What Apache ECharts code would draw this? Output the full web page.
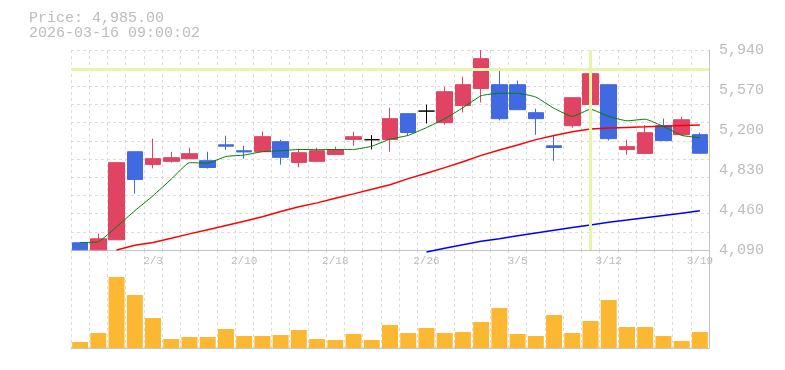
<!DOCTYPE html>
<html><head><meta charset="utf-8">
<script src="https://cdn.jsdelivr.net/npm/echarts@6/dist/echarts.min.js"></script>
<style>html,body{margin:0;padding:0;background:#fff}#c{width:785px;height:370px}</style>
</head><body><div id="c"></div>
<script>
const dates = ['1/28','1/29','1/30','2/2','2/3','2/4','2/5','2/6','2/9','2/10','2/12','2/13','2/16','2/17','2/18','2/19','2/20','2/24','2/25','2/26','2/27','3/2','3/3','3/4','3/5','3/6','3/9','3/10','3/11','3/12','3/13','3/16','3/17','3/18','3/19'];
const opens  = [4157,4092,4185,4999,4882,4910,4935,4916,5063,5008,4999,5092,4900,4910,4974,5113,5110,5113,5351,5375,5268,5426,5584,5619,5619,5360,5054,5240,5436,5619,5020,4983,5240,5157,5157];
const closes = [4092,4194,4898,4742,4935,4944,4981,4853,5050,4997,5138,4947,4990,5008,5018,5138,5110,5305,5177,5375,5554,5619,5860,5305,5388,5305,5038,5499,5721,5120,5046,5175,5102,5295,4985];
const lows   = [4090,4090,4185,4612,4845,4898,4935,4843,5015,4935,4999,4880,4854,4910,4970,5055,5020,5000,5147,5260,5250,5362,5454,5289,5388,5156,4915,5222,5434,5102,4972,4983,5102,5157,4985];
const highs  = [4157,4241,4898,4999,5120,4999,5036,4999,5147,5055,5186,5110,5027,5036,5046,5184,5152,5406,5351,5434,5600,5693,5940,5776,5656,5397,5144,5499,5832,5619,5110,5245,5305,5323,5175];
const volumes = [6000,15000,71000,53000,30000,9000,11000,11000,19000,12000,12000,13000,18000,9000,8000,14000,8000,23000,15000,20000,15000,16000,26000,40000,14000,12000,33000,15000,27000,48000,21000,21000,12000,7000,16000];
const ma5  = [4160,4166,4305,4453,4592,4745,4898,4893,4955,4968,5000,5008,5020,5018,5020,5020,5050,5115,5150,5222,5304,5406,5517,5540,5540,5505,5400,5325,5392,5325,5285,5300,5233,5150,5128];
const ma25 = [null,null,4090,4133,4160,4199,4239,4278,4317,4356,4398,4446,4490,4526,4569,4609,4651,4694,4750,4800,4852,4907,4965,5015,5062,5111,5150,5184,5209,5218,5224,5229,5235,5242,5246];
const ma75 = [null,null,null,null,null,null,null,null,null,null,null,null,null,null,null,null,null,null,null,4071,4106,4139,4170,4195,4221,4247,4273,4299,4322,4346,4367,4389,4410,4431,4452];
const priceTicks = [4090,4460,4830,5200,5570,5940];
const titleLines = ['Price: 4,985.00','2026-03-16 09:00:02'];
const cursorPrice = 5762;
const cursorDate = '3/11';

const FONT = "'Liberation Mono', monospace";
const TXT = '#bcbcbc';
const AXL = '#c4c4c4';
const GRID = {color:'#dcdcdc', type:[3,3], width:1};
const UP = '#e04462', DOWN = '#4169e1';

const chart = echarts.init(document.getElementById('c'), null, {renderer:'canvas'});
chart.setOption({
  animation:false,
  backgroundColor:'#fff',
  title:{text:titleLines.join('\n'), left:29, top:10.5, padding:0,
    textStyle:{fontFamily:FONT, fontSize:15, lineHeight:15, color:TXT, fontWeight:'normal'}},
  grid:[{left:71, top:50, width:638, height:200},{left:71, top:250, width:638, height:98}],
  xAxis:[
    {type:'category', gridIndex:0, data:dates, boundaryGap:true,
     axisLine:{lineStyle:{color:AXL, width:1}}, axisTick:{show:false},
     axisLabel:{interval:(i)=>i%5===4, color:TXT, fontFamily:FONT, fontSize:11, margin:6},
     splitLine:{show:true, interval:0, lineStyle:GRID}},
    {type:'category', gridIndex:1, data:dates, boundaryGap:true, offset:1.5,
     axisLine:{lineStyle:{color:AXL, width:1}}, axisTick:{show:false}, axisLabel:{show:false},
     splitLine:{show:true, interval:0, lineStyle:GRID}}
  ],
  yAxis:[
    {type:'value', gridIndex:0, position:'right', min:4090, max:5940,
     axisLine:{show:true, lineStyle:{color:AXL, width:1}}, axisTick:{show:false}, splitLine:{show:false},
     axisLabel:{customValues:priceTicks, formatter:(v)=>Number(v).toLocaleString('en-US'),
       color:TXT, fontFamily:FONT, fontSize:15, margin:10, padding:[6,0,0,0]}},
    {type:'value', gridIndex:0, position:'left', min:0, max:11, interval:1,
     axisLine:{show:false}, axisTick:{show:false}, axisLabel:{show:false},
     splitLine:{show:true, lineStyle:GRID}},
    {type:'value', gridIndex:1, position:'right', min:0, max:98000,
     axisLine:{show:true, lineStyle:{color:AXL, width:1}}, axisTick:{show:false}, axisLabel:{show:false},
     splitLine:{show:false}}
  ],
  series:[
    {type:'line', xAxisIndex:0, yAxisIndex:0, data:[], z:1, silent:true,
     markLine:{silent:true, symbol:['none','none'], label:{show:false}, animation:false,
       lineStyle:{color:'#e6f5aa', width:3, type:'solid'},
       data:[{yAxis:cursorPrice},{xAxis:cursorDate}]}},
    {type:'candlestick', xAxisIndex:0, yAxisIndex:0, z:2, barWidth:16,
     data:dates.map((d,i)=>[opens[i],closes[i],lows[i],highs[i]]),
     itemStyle:{color:UP, color0:DOWN, borderColor:UP, borderColor0:DOWN, borderColorDoji:'#000', borderWidth:1}},
    {type:'line', xAxisIndex:0, yAxisIndex:0, z:3, data:ma75, symbol:'none', clip:false,
     lineStyle:{color:'#0000ff', width:1.5}},
    {type:'line', xAxisIndex:0, yAxisIndex:0, z:3, data:ma25, symbol:'none', clip:false,
     lineStyle:{color:'#ff0000', width:1.5}},
    {type:'line', xAxisIndex:0, yAxisIndex:0, z:4, data:ma5, symbol:'none', smooth:0.12,
     lineStyle:{color:'#008000', width:1}},
    {type:'bar', xAxisIndex:1, yAxisIndex:2, data:volumes, barWidth:16,
     itemStyle:{color:'#fdb833'}}
  ]
});
</script></body></html>
